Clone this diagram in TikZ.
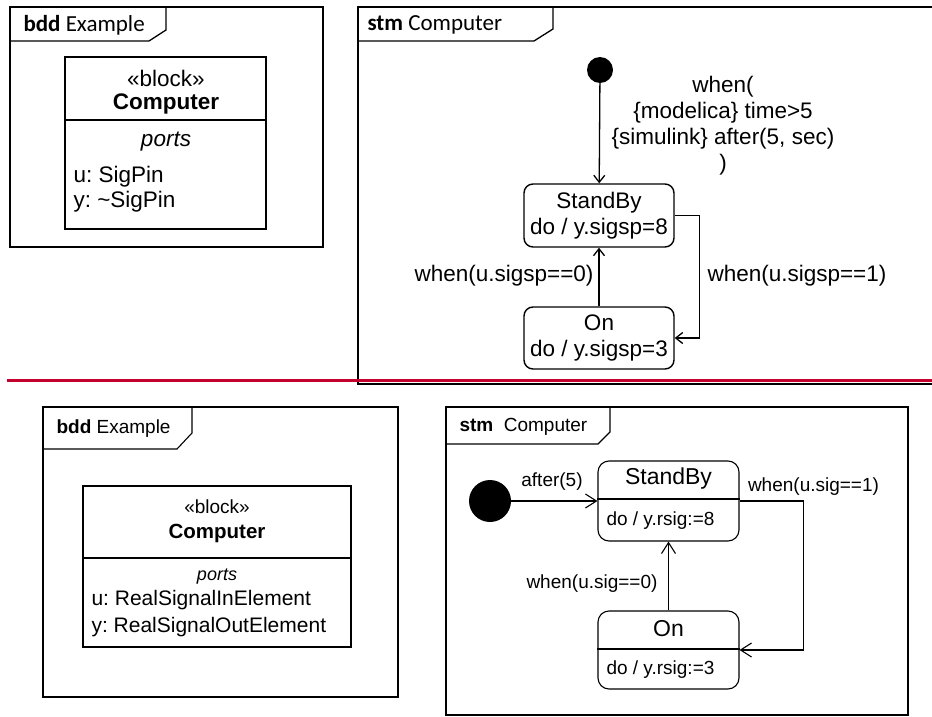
\documentclass[tikz,border=0pt]{standalone}
\usepackage{fontspec}
\setmainfont{Liberation Sans}
\newfontfamily\tabfont{Carlito}
\usetikzlibrary{arrows.meta}
\definecolor{sepred}{RGB}{196,0,47}
\frenchspacing

\begin{document}
\begin{tikzpicture}[x=1pt, y=-1pt,
    umlframe/.style={line width=1.3pt},
    blockbox/.style={draw, line width=1.3pt, inner sep=0pt},
    stbox/.style={draw, line width=1.4pt, inner sep=0pt},
    startdot/.style={circle, fill=black, inner sep=0pt},
    trans/.style={-{Straight Barb[length=7pt,width=11pt]}, line width=1.3pt},
    bigtxt/.style={font=\fontsize{22.5}{26}\selectfont},
    smalltxt/.style={font=\fontsize{19}{22}\selectfont}]

        \useasboundingbox (0,0) rectangle (932,717);

        % top left: bdd frame
        \draw[umlframe] (10,7) rectangle (323,247);
        \draw[umlframe] (10,41) -- (149,41) -- (166,30) -- (166,7);
        \node[anchor=west, font=\tabfont\fontsize{23}{26}\selectfont] (bddA) at (20,25) {\textbf{bdd} Example};

        \node[blockbox, minimum width=201pt, minimum height=172pt] (blkA) at (165.5,143) {};
        \draw[line width=1.3pt] ([yshift=23pt]blkA.west) -- ([yshift=23pt]blkA.east);
        \node[bigtxt] (stereoA) at (166,78) {«block»};
        \node[bigtxt] (nameA) at (166,104) {\textbf{Computer}};
        \node[bigtxt] (portsA) at (166,142) {\textit{ports}};
        \node[bigtxt, anchor=west] (uA) at (70,177) {u: SigPin};
        \node[bigtxt, anchor=west] (yA) at (70,202) {y: \textasciitilde SigPin};

        % top right: stm frame
        \draw[umlframe] (932,7) -- (358,7) -- (358,384) -- (932,384);
        \draw[umlframe] (358,41) -- (534,41) -- (553,29) -- (553,7);
        \node[anchor=west, font=\tabfont\fontsize{23}{26}\selectfont] (stmA) at (364,25) {\textbf{stm} Computer};

        \node[startdot, minimum size=26pt] (initA) at (600,70) {};
        \node[stbox, rounded corners=9pt, minimum width=150pt, minimum height=63pt,
              bigtxt, align=center] (sbA) at (599,215.5) {StandBy\\do / y.sigsp=8};
        \node[stbox, rounded corners=9pt, minimum width=150pt, minimum height=62pt,
              bigtxt, align=center] (onA) at (599,338) {On\\do / y.sigsp=3};

        \draw[trans] (initA) -- (sbA);
        \draw[trans] (onA) -- (sbA);
        \draw[trans] (sbA.east) -- ++(25,0) |- (onA.east);

        \node[bigtxt, align=center] (guardA) at (723,126)
          {when(\\\{modelica\} time>5\\\{simulink\} after(5, sec)\\)};
        \node[bigtxt, anchor=east] (offA) at (597,276) {when(u.sigsp==0)};
        \node[bigtxt, anchor=west] (onlblA) at (704,276) {when(u.sigsp==1)};

        % separator
        \draw[sepred, line width=3pt] (7,380) -- (932,380);

        % bottom left: bdd frame
        \draw[line width=1.1pt] (43,407) rectangle (398,697);
        \draw[line width=1.1pt] (43,449) -- (177,449) -- (192,433) -- (192,407);
        \node[anchor=west, font=\fontsize{19}{22}\selectfont] (bddB) at (53,429) {\textbf{bdd} Example};

        \node[blockbox, line width=1.1pt, minimum width=268pt, minimum height=161pt] (blkB) at (217,566.5) {};
        \draw[line width=1.1pt] ([yshift=8.5pt]blkB.west) -- ([yshift=8.5pt]blkB.east);
        \node[smalltxt] (stereoB) at (217,507) {«block»};
        \node[font=\fontsize{20.5}{24}\selectfont] (nameB) at (217,533) {\textbf{Computer}};
        \node[font=\fontsize{18}{22}\selectfont] (portsB) at (217,577) {\textit{ports}};
        \node[font=\fontsize{21}{24}\selectfont, anchor=west] (uB) at (88,600) {u: RealSignalInElement};
        \node[font=\fontsize{21}{24}\selectfont, anchor=west] (yB) at (88,627) {y: RealSignalOutElement};

        % bottom right: stm frame
        \draw[line width=1.1pt] (446,407) rectangle (908,715);
        \draw[line width=1.1pt] (446,444) -- (598,444) -- (610,432) -- (610,407);
        \node[anchor=west, font=\fontsize{19}{22}\selectfont] (stmB) at (456,427) {\textbf{stm}\ \ Computer};

        \node[startdot, minimum size=42pt] (initB) at (490,501) {};
        \node[stbox, line width=1.1pt, rounded corners=11pt, minimum width=141pt, minimum height=80pt] (sbB) at (668.5,501) {};
        \draw[line width=1.1pt] ([yshift=2pt]sbB.west) -- ([yshift=2pt]sbB.east);
        \node[font=\fontsize{23}{26}\selectfont] (sbnameB) at (668.5,479) {StandBy};
        \node[smalltxt, anchor=west] (sbdoB) at (603,521) {do / y.rsig:=8};

        \node[stbox, line width=1.1pt, rounded corners=11pt, minimum width=141pt, minimum height=78pt] (onB) at (668.5,650) {};
        \draw[line width=1.1pt] ([yshift=1pt]onB.west) -- ([yshift=1pt]onB.east);
        \node[font=\fontsize{23}{26}\selectfont] (onnameB) at (668.5,629) {On};
        \node[smalltxt, anchor=west] (ondoB) at (603,670) {do / y.rsig:=3};

        \draw[trans, line width=1.1pt, -{Straight Barb[length=11pt,width=14pt]}] (initB) -- (sbB.west);
        \draw[trans, line width=1.1pt, -{Straight Barb[length=11pt,width=14pt]}] (onB) -- (sbB);
        \draw[trans, line width=1.1pt, -{Straight Barb[length=11pt,width=14pt]}] (sbB.east) -- ++(64,0) |- (onB.east);

        \node[smalltxt] (afterB) at (552,482) {after(5)};
        \node[smalltxt] (offB) at (592,584) {when(u.sig==0)};
        \node[smalltxt] (onlblB) at (813.5,487) {when(u.sig==1)};

\end{tikzpicture}
\end{document}
